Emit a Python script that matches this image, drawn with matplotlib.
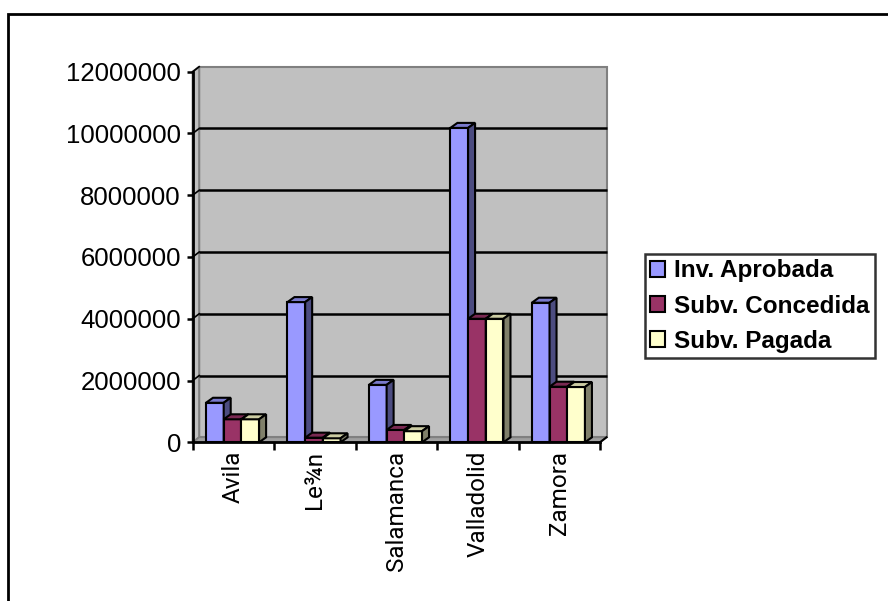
import matplotlib
matplotlib.use("Agg")
import matplotlib.pyplot as plt
from matplotlib.patches import Rectangle, Polygon, Patch
from matplotlib.ticker import FuncFormatter

categories = ["Avila", "Le¾n", "Salamanca", "Valladolid", "Zamora"]
series_names = ["Inv. Aprobada", "Subv. Concedida", "Subv. Pagada"]
inv_aprobada = [1280000, 4540000, 1860000, 10180000, 4520000]
subv_concedida = [745000, 150000, 400000, 4000000, 1800000]
subv_pagada = [745000, 130000, 360000, 4000000, 1790000]
y_ticks = [0, 2000000, 4000000, 6000000, 8000000, 10000000, 12000000]

series = [inv_aprobada, subv_concedida, subv_pagada]
front_colors = ["#9999FF", "#993366", "#FFFFCC"]
top_colors = ["#7A7ACC", "#7A2952", "#CCCCA3"]
side_colors = ["#4C4C80", "#4C1933", "#80806A"]

W_PX, H_PX = 888, 601
fig = plt.figure(figsize=(W_PX / 100, H_PX / 100), dpi=100)

ax_left, ax_right = 192.7, 600.0
ax_top, ax_bottom = 71.7, 442.3
ax = fig.add_axes([ax_left / W_PX, 1 - ax_bottom / H_PX,
                   (ax_right - ax_left) / W_PX, (ax_bottom - ax_top) / H_PX])
ax.set_xlim(0, 5)
ax.set_ylim(0, 12000000)

ax_w_px = ax_right - ax_left
ax_h_px = ax_bottom - ax_top
px_x = 5 / ax_w_px
px_y = 12000000 / ax_h_px

wdx, wdy = 6.5 * px_x, 5 * px_y
bdx, bdy = 7 * px_x, 5 * px_y

ax.add_patch(Rectangle((wdx, wdy), 5, 12000000, facecolor="#C0C0C0",
                       edgecolor="#808080", lw=1.5, zorder=0.5, clip_on=False))
ax.add_patch(Polygon([(0, 0), (wdx, wdy), (wdx, 12000000 + wdy), (0, 12000000)],
                     closed=True, facecolor="#C0C0C0", edgecolor="#808080",
                     lw=1.5, zorder=0.6, clip_on=False))
ax.add_patch(Polygon([(0, 0), (5, 0), (5 + wdx, wdy), (wdx, wdy)], closed=True,
                     facecolor="#A0A0A0", edgecolor="#808080", lw=1.2,
                     zorder=0.6, clip_on=False))
for v in y_ticks[1:-1]:
    ax.plot([wdx, 5 + wdx], [v + wdy, v + wdy], color="black", lw=1.8,
            zorder=0.8, clip_on=False, solid_capstyle="butt")
    ax.plot([0, wdx], [v, v + wdy], color="black", lw=1.2, zorder=0.8,
            clip_on=False)
ax.plot([5, 5 + wdx], [0, wdy], color="black", lw=1.5, zorder=2.6, clip_on=False)
ax.plot([0, wdx], [12000000, 12000000 + wdy], color="black", lw=1.2, zorder=2.6,
        clip_on=False)

bar_w = 17.7 * px_x
group_off = 13.3 * px_x
z = 3.0
for k in range(len(categories)):
    for i, vals in enumerate(series):
        h = vals[k]
        x0 = k + group_off + i * bar_w
        ax.bar(x0, h, width=bar_w, align="edge", color=front_colors[i],
               edgecolor="black", lw=1.5, zorder=z)
        ax.add_patch(Polygon([(x0, h), (x0 + bar_w, h),
                              (x0 + bar_w + bdx, h + bdy), (x0 + bdx, h + bdy)],
                             closed=True, facecolor=top_colors[i],
                             edgecolor="black", lw=1.5, zorder=z, clip_on=False))
        ax.add_patch(Polygon([(x0 + bar_w, 0), (x0 + bar_w + bdx, bdy),
                              (x0 + bar_w + bdx, h + bdy), (x0 + bar_w, h)],
                             closed=True, facecolor=side_colors[i],
                             edgecolor="black", lw=1.5, zorder=z, clip_on=False))
        z += 0.01

for s in ["top", "right"]:
    ax.spines[s].set_visible(False)
for s in ["left", "bottom"]:
    ax.spines[s].set_linewidth(2)
    ax.spines[s].set_color("black")
    ax.spines[s].set_zorder(2.5)

ax.set_yticks(y_ticks)
ax.yaxis.set_major_formatter(FuncFormatter(lambda v, p: f"{int(round(v))}"))
ax.tick_params(axis="y", direction="out", length=4.5, width=1.8, pad=4,
               labelsize=18.5, colors="black")
for lab in ax.get_yticklabels():
    lab.set_fontfamily("Liberation Sans")

ax.set_xticks([k + 0.5 for k in range(len(categories))])
ax.set_xticklabels(categories, rotation=90, fontsize=17.5,
                   fontfamily="Roboto", fontweight="normal", color="black")
ax.set_xticks(list(range(len(categories) + 1)), minor=True)
ax.tick_params(axis="x", which="major", length=0, pad=6)
ax.tick_params(axis="x", which="minor", direction="out", length=6, width=1.8)

handles = [Patch(facecolor=c, edgecolor="black", lw=1.5) for c in front_colors]
leg = fig.legend(handles, series_names, loc="upper left",
                 bbox_to_anchor=(645 / W_PX, 1 - 254 / H_PX),
                 prop={"family": "Liberation Sans", "weight": "bold", "size": 17.5},
                 frameon=True, fancybox=False, shadow=False,
                 handlelength=0.62, handleheight=0.62, handletextpad=0.35,
                 labelspacing=0.5, borderpad=0.22, borderaxespad=0)
leg.get_frame().set_edgecolor("black")
leg.get_frame().set_linewidth(1.8)
leg.get_frame().set_facecolor("white")

fig.add_artist(Rectangle((8 / W_PX, -0.2), 1.5, 1.2 - 14 / H_PX,
                         transform=fig.transFigure, fill=False,
                         edgecolor="black", lw=2, clip_on=False))

fig.savefig("out.png", dpi=100, facecolor="white")
